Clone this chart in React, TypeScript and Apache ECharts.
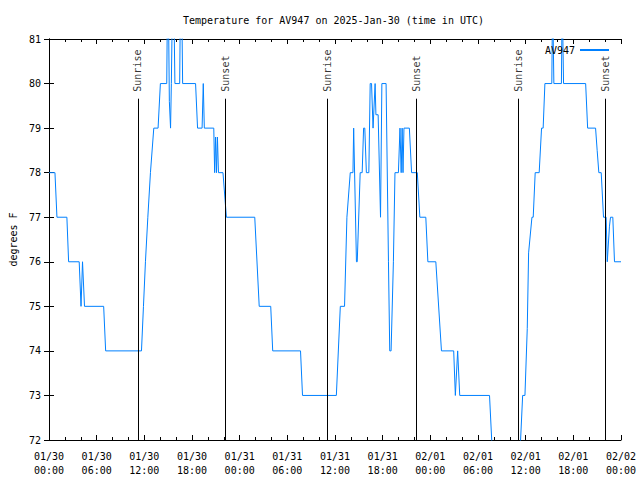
import React, { useEffect, useRef } from "react";
import * as echarts from "echarts";

// Hours since 2025-01-30 00:00 UTC
const hours = [
  0, 0.75, 1.0, 2.25, 2.47, 3.8, 4.03, 4.22, 4.3, 4.47, 6.88, 7.13, 11.64, 11.89, 12.14, 12.44, 12.77, 13.19, 13.73, 14.02,
  14.82, 14.92, 15.02, 15.15, 15.3, 15.4, 15.55, 15.7, 15.85, 16.45, 16.55, 16.7, 16.82, 18.45, 18.7, 19.27, 19.42, 19.55,
  20.74, 20.85, 20.97, 21.08, 21.2, 21.33, 21.9, 22.33, 25.9, 26.46, 27.91, 28.16, 31.66, 31.91, 36.17, 36.67, 37.2, 37.5,
  37.92, 38.26, 38.35, 38.7, 38.8, 39.17, 39.42, 39.6, 39.75, 39.95, 40.26, 40.43, 40.6, 40.79, 41.05, 41.15, 41.43, 41.73,
  41.9, 42.43, 42.73, 42.89, 43.06, 43.35, 43.55, 43.98, 44.18, 44.33, 44.45, 44.56, 44.68, 45.36, 45.64, 46.36, 46.68,
  47.43, 47.69, 48.69, 49.4, 50.94, 51.15, 51.44, 51.7, 55.45, 56.0, 59.1, 59.62, 59.91, 60.2, 60.37, 60.79, 60.95, 61.2,
  61.7, 62.0, 62.2, 62.42, 63.29, 63.39, 63.45, 63.55, 64.5, 64.6, 64.66, 64.77, 67.55, 67.8, 68.8, 69.0, 69.21, 69.51,
  69.8, 70.13, 70.27, 70.35, 70.55, 70.68, 70.97, 71.18, 72,
];
const tempF = [
  78, 78, 77, 77, 76, 76, 75, 76, 76, 75, 75, 74, 74, 75, 76, 77, 78, 79, 79, 80,
  80, 82, 82, 79.6, 79, 80, 82, 82, 80, 80, 82, 82, 80, 80, 79, 79, 80, 79,
  79, 78, 78.8, 78, 78.8, 78, 78, 77, 77, 75, 75, 74, 74, 73, 73, 75, 75, 77,
  78, 78, 79, 76, 76, 78, 78, 79, 79, 78, 78, 80, 80, 79, 80, 79.3, 79.3, 77,
  80, 80, 76, 74, 74, 76, 78, 78, 79, 78, 79, 78, 79, 79, 78, 78, 77,
  77, 76, 76, 74, 74, 73, 74, 73, 73, 71, 71, 73, 73, 74.5, 76.2, 77, 77, 78,
  78, 79, 79, 80, 80, 82, 82, 80, 80, 82, 82, 80, 80, 79, 79, 78.5, 78, 78,
  77, 77, 76, 76, 76.8, 77, 77, 76, 76,
];

const sunHours = [11.19, 22.24, 35.04, 46.27, 59.07, 70.08];
const sunNames = ["Sunrise", "Sunset", "Sunrise", "Sunset", "Sunrise", "Sunset"];

const xTickLabels = [
  "01/30\n00:00", "01/30\n06:00", "01/30\n12:00", "01/30\n18:00",
  "01/31\n00:00", "01/31\n06:00", "01/31\n12:00", "01/31\n18:00",
  "02/01\n00:00", "02/01\n06:00", "02/01\n12:00", "02/01\n18:00",
  "02/02\n00:00",
];

const TITLE = "Temperature for AV947 on 2025-Jan-30 (time in UTC)";
const MONO = "'DejaVu Sans Mono', 'Liberation Mono', monospace";
const SUN_TOP = 79.66;

export default function App() {
  const ref = useRef<HTMLDivElement>(null);
  useEffect(() => {
    if (!ref.current) return;
    const chart = echarts.init(ref.current, undefined, { renderer: "svg" });
    const axisLine = { show: true, lineStyle: { color: "#000", width: 1 } };
    const tick = { show: true, inside: true, length: 5, lineStyle: { color: "#000" } };
    const minor = { show: true, splitNumber: 3, length: 3, lineStyle: { color: "#000" } };
    const xCommon = {
      type: "value",
      min: 0,
      max: 72,
      interval: 6,
      axisLine,
      axisTick: tick,
      minorTick: minor,
      splitLine: { show: false },
      minorSplitLine: { show: false },
    };
    const yCommon = {
      type: "value",
      min: 72,
      max: 81,
      interval: 1,
      axisLine,
      axisTick: tick,
      splitLine: { show: false },
    };
    chart.setOption({
      animation: false,
      backgroundColor: "#fff",
      graphic: [
        {
          type: "text",
          x: 333.5,
          y: 20,
          style: {
            text: TITLE,
            align: "center",
            verticalAlign: "middle",
            font: `10px ${MONO}`,
            fill: "#000",
          },
        },
      ],
      legend: {
        data: ["AV947"],
        right: 25,
        top: 40,
        itemWidth: 29,
        itemHeight: 10,
        align: "right",
        itemStyle: { opacity: 0 },
        textStyle: { fontFamily: MONO, fontSize: 10, color: "#000" },
      },
      grid: { left: 46, right: 19, top: 39, bottom: 40 },
      xAxis: [
        {
          ...xCommon,
          position: "bottom",
          axisLabel: {
            margin: 9,
            fontFamily: MONO,
            fontSize: 10,
            color: "#000",
            lineHeight: 14,
            formatter: (v: number) => xTickLabels[Math.round(v / 6)] ?? "",
          },
        },
        { ...xCommon, position: "top", axisLabel: { show: false } },
      ],
      yAxis: [
        {
          ...yCommon,
          position: "left",
          name: "degrees F",
          nameLocation: "middle",
          nameGap: 31,
          nameTextStyle: { fontFamily: MONO, fontSize: 10, color: "#000" },
          axisLabel: { margin: 8, fontFamily: MONO, fontSize: 10, color: "#000" },
        },
        { ...yCommon, position: "right", axisLabel: { show: false } },
      ],
      series: [
        {
          name: "AV947",
          type: "line",
          data: hours.map((h, i) => [h, tempF[i]]),
          symbol: "none",
          clip: true,
          lineStyle: { color: "#0080ff", width: 1 },
          itemStyle: { color: "#0080ff" },
        },
        {
          name: "sun",
          type: "scatter",
          symbolSize: 0,
          data: sunHours.map((h, i) => [h, SUN_TOP, sunNames[i]]),
          label: {
            show: true,
            formatter: (p: any) => p.data[2],
            position: "top",
            distance: 7,
            rotate: 90,
            align: "left",
            verticalAlign: "middle",
            fontFamily: MONO,
            fontSize: 10,
            color: "#000",
          },
          markLine: {
            silent: true,
            symbol: ["none", "none"],
            lineStyle: { color: "#000", width: 1, type: "solid" },
            label: { show: false },
            data: sunHours.map((h) => [{ coord: [h, 72] }, { coord: [h, SUN_TOP] }]),
          },
        },
      ],
    });
    return () => chart.dispose();
  }, []);
  return (
    <div
      ref={ref}
      style={{ position: "fixed", left: 0, top: 0, width: 640, height: 480, background: "#fff" }}
    />
  );
}
